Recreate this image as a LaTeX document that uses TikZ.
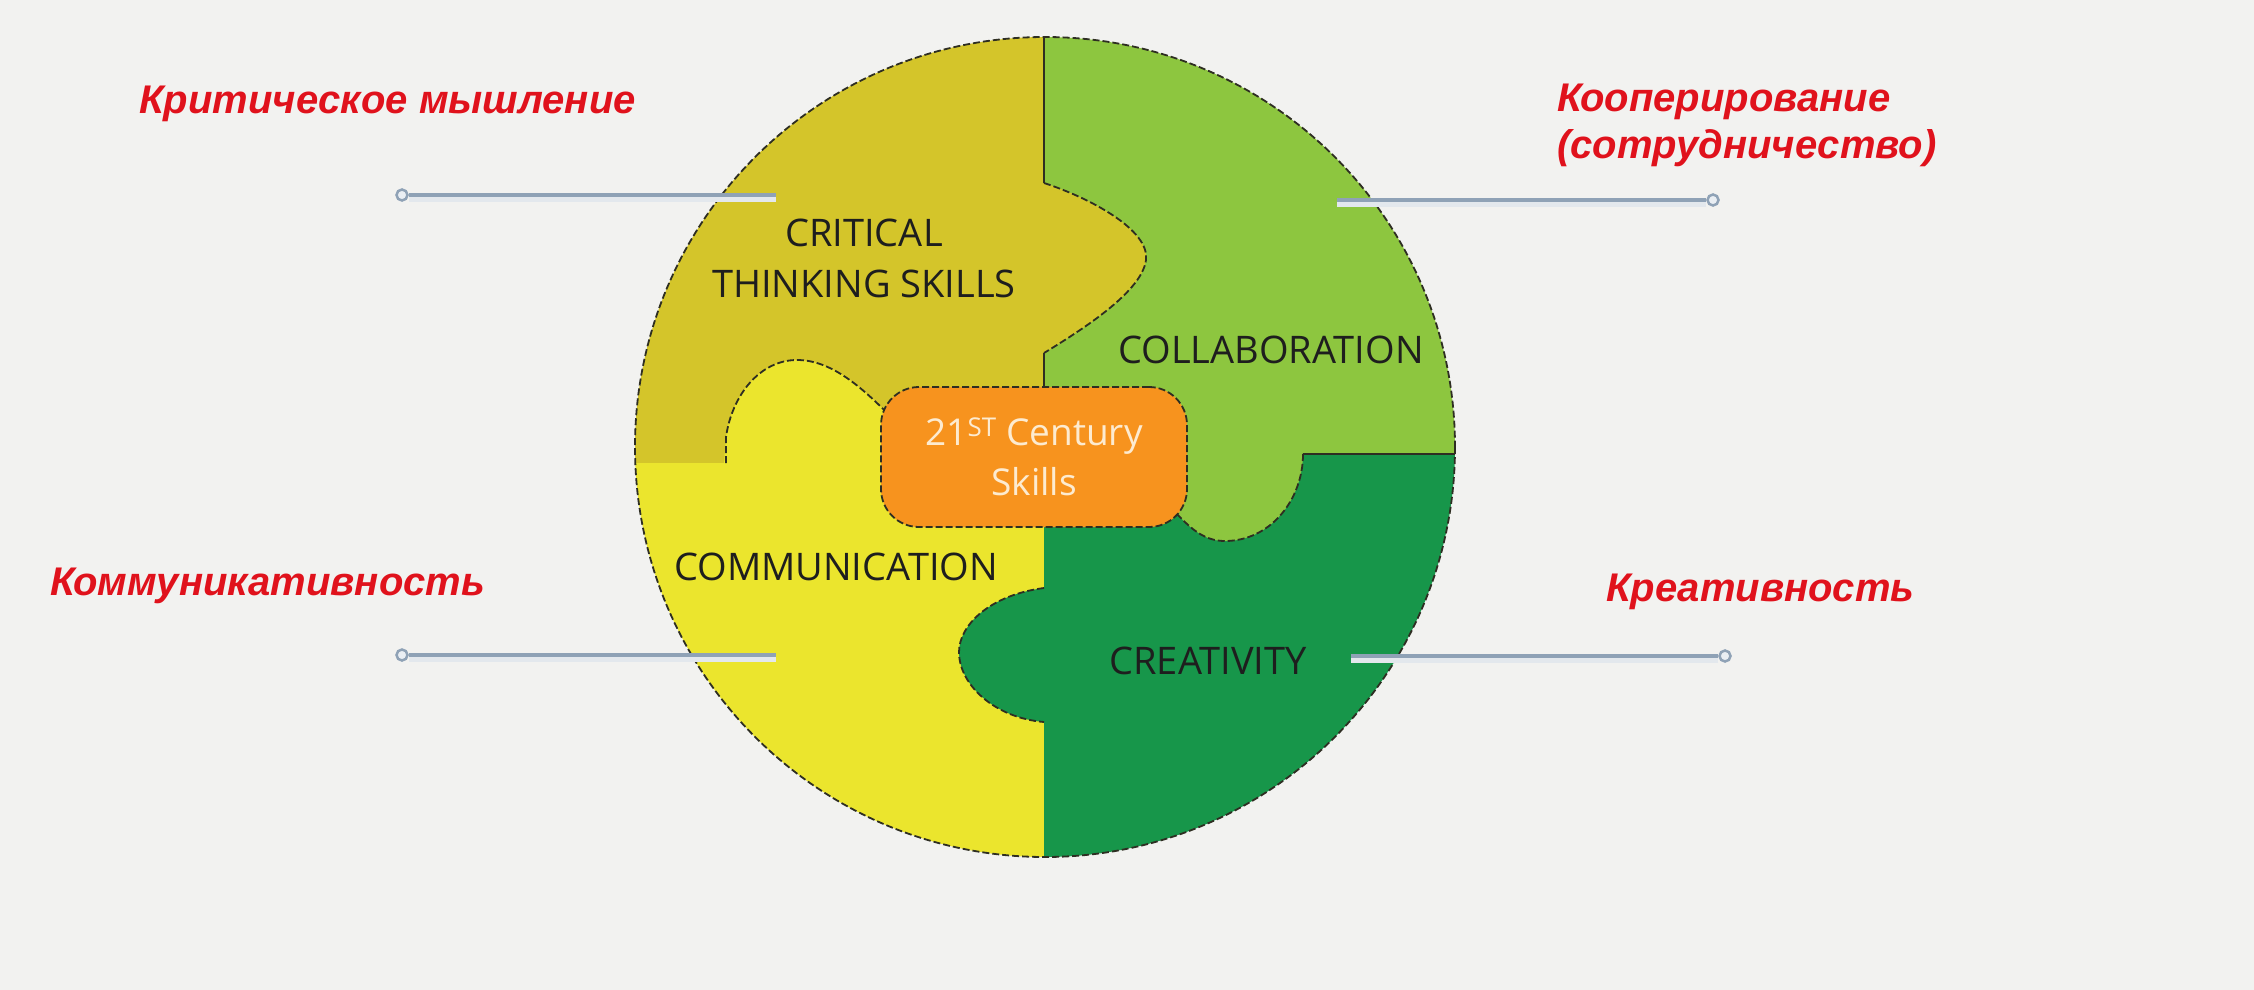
\documentclass[tikz,border=0pt]{standalone}
\usepackage{fontspec}
\setmainfont{Open Sans}
\newfontfamily\labelfont{Liberation Sans}
\usetikzlibrary{positioning}
\definecolor{bgcol}{HTML}{F2F2F0}
\definecolor{ctcol}{HTML}{D4C52A}
\definecolor{colcol}{HTML}{8DC63F}
\definecolor{comcol}{HTML}{EBE52D}
\definecolor{crecol}{HTML}{17964A}
\definecolor{corefill}{HTML}{F7931E}
\definecolor{coretext}{HTML}{FDEBD0}
\definecolor{redcol}{HTML}{E0121C}
\definecolor{textcol}{HTML}{1E1E1E}
\definecolor{edgecol}{HTML}{2E2E22}
\definecolor{leadcol}{HTML}{8FA2B6}
\definecolor{dotcol}{HTML}{E9EEF3}
\tikzset{
  piece/.style={font=\fontsize{38}{51}\selectfont, text=textcol, align=center},
  redlabel/.style={font=\labelfont\bfseries\itshape\fontsize{40}{47}\selectfont, text=redcol, anchor=west, align=left, inner sep=0pt},
  seam/.style={draw=edgecol, line width=1.8pt, dash pattern=on 7pt off 3pt},
  divider/.style={draw=edgecol, line width=1.6pt},
  core/.style={draw=edgecol, line width=1.8pt, dash pattern=on 7pt off 3pt, fill=corefill, rounded corners=38pt, minimum width=306pt, minimum height=140pt, text=coretext, font=\fontsize{37}{50}\selectfont, align=center},
  lead/.style={draw=leadcol, line width=4pt, preaction={draw=leadcol!25, line width=7pt, transform canvas={yshift=-3pt}}},
  leaddot/.style={circle, draw=leadcol, fill=dotcol, line width=2.5pt, inner sep=0pt, minimum size=11pt}
}
\begin{document}
\begin{tikzpicture}[x=1pt,y=-1pt]
\useasboundingbox (0,0) rectangle (2254,990);
\fill[bgcol] (0,0) rectangle (2254,990);
\coordinate (c) at (1045,447);
\begin{scope}
  \clip (c) circle[radius=410];
  \fill[ctcol] (600,0) rectangle (1044,463);
  \fill[colcol] (1044,0) rectangle (1500,454);
  \fill[comcol] (600,463) rectangle (1044,900);
  \fill[crecol] (1044,454) rectangle (1500,900);
\end{scope}
\fill[ctcol] (1044,183) .. controls (1090,198) and (1150,230) .. (1146,260) .. controls (1142,290) and (1090,325) .. (1044,353) -- cycle;
\draw[seam] (1044,183) .. controls (1090,198) and (1150,230) .. (1146,260) .. controls (1142,290) and (1090,325) .. (1044,353);
\fill[comcol] (724,464) -- (726,437) .. controls (732,395) and (760,360) .. (797,360) .. controls (830,360) and (860,385) .. (892,418) -- (892,464) -- cycle;
\draw[seam] (726,463) -- (726,437) .. controls (732,395) and (760,360) .. (797,360) .. controls (830,360) and (860,385) .. (892,418);
\fill[colcol] (1303,453) .. controls (1303,500) and (1270,541) .. (1225,541) .. controls (1205,541) and (1192,530) .. (1175,512) -- (1175,453) -- cycle;
\draw[seam] (1303,454) .. controls (1303,500) and (1270,541) .. (1225,541) .. controls (1205,541) and (1192,530) .. (1175,512);
\fill[crecol] (1044,588) .. controls (990,595) and (959,625) .. (959,652) .. controls (959,685) and (995,718) .. (1044,722) -- cycle;
\draw[seam] (1044,588) .. controls (990,595) and (959,625) .. (959,652) .. controls (959,685) and (995,718) .. (1044,722);
\draw[divider] (1044,37) -- (1044,183);
\draw[divider] (1044,353) -- (1044,390);
\draw[divider] (1303,454) -- (1455,454);
\draw[seam] (c) circle[radius=410];
\node[core] (core) at (1034,457) {21\textsuperscript{ST} Century\\Skills};
\node[piece] (ct) at (864,258) {CRITICAL\\THINKING SKILLS};
\node[piece] (col) at (1271,350) {COLLABORATION};
\node[piece] (com) at (836,567) {COMMUNICATION};
\node[piece] (cre) at (1208,661) {CREATIVITY};
\node[redlabel] (ctname) at (139,104) {Критическое мышление};
\node[redlabel] (colname) at (1557,125) {Кооперирование\\(сотрудничество)};
\node[redlabel] (comname) at (50,586) {Коммуникативность};
\node[redlabel] (crename) at (1606,592) {Креативность};
\node[leaddot] (ctdot) at (402,195) {};
\node[leaddot] (coldot) at (1713,200) {};
\node[leaddot] (comdot) at (402,655) {};
\node[leaddot] (credot) at (1725,656) {};
\coordinate (ctend) at (776,195);
\coordinate (colend) at (1337,200);
\coordinate (comend) at (776,655);
\coordinate (creend) at (1351,656);
\draw[lead] (ctdot) -- (ctend);
\draw[lead] (coldot) -- (colend);
\draw[lead] (comdot) -- (comend);
\draw[lead] (credot) -- (creend);
\end{tikzpicture}
\end{document}
